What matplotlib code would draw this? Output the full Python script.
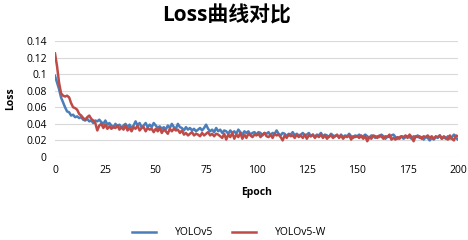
import numpy as np
import matplotlib.pyplot as plt

plt.rcParams['font.family'] = ['Open Sans', 'Noto Sans CJK SC', 'DejaVu Sans']

# YOLOv5 loss per epoch (0..200)
yolov5 = [
    0.098, 0.090, 0.082, 0.072, 0.066, 0.060, 0.055, 0.054, 0.050, 0.051,
    0.048, 0.049, 0.047, 0.048, 0.045, 0.044, 0.046, 0.043, 0.044, 0.041,
    0.044, 0.043, 0.045, 0.042, 0.040, 0.044, 0.039, 0.041, 0.038, 0.036,
    0.040, 0.037, 0.039, 0.035, 0.038, 0.040, 0.036, 0.039, 0.035, 0.038,
    0.043, 0.038, 0.041, 0.036, 0.038, 0.041, 0.036, 0.039, 0.036, 0.041,
    0.038, 0.035, 0.037, 0.034, 0.036, 0.033, 0.038, 0.035, 0.040, 0.036,
    0.034, 0.040, 0.036, 0.035, 0.032, 0.036, 0.033, 0.035, 0.032, 0.034,
    0.031, 0.033, 0.035, 0.032, 0.035, 0.039, 0.034, 0.031, 0.033, 0.030,
    0.035, 0.031, 0.033, 0.029, 0.032, 0.031, 0.028, 0.032, 0.029, 0.031,
    0.028, 0.033, 0.030, 0.027, 0.031, 0.029, 0.031, 0.027, 0.029, 0.030,
    0.027, 0.030, 0.029, 0.026, 0.029, 0.028, 0.030, 0.026, 0.029, 0.028,
    0.032, 0.028, 0.026, 0.029, 0.028, 0.025, 0.028, 0.027, 0.030, 0.026,
    0.028, 0.026, 0.027, 0.029, 0.026, 0.027, 0.029, 0.025, 0.027, 0.024,
    0.027, 0.026, 0.029, 0.025, 0.027, 0.026, 0.024, 0.028, 0.026, 0.025,
    0.026, 0.024, 0.027, 0.024, 0.026, 0.025, 0.028, 0.025, 0.023, 0.026,
    0.025, 0.027, 0.024, 0.025, 0.027, 0.025, 0.023, 0.026, 0.025, 0.023,
    0.025, 0.024, 0.027, 0.025, 0.022, 0.025, 0.024, 0.026, 0.027, 0.024,
    0.022, 0.024, 0.025, 0.022, 0.024, 0.025, 0.024, 0.022, 0.025, 0.024,
    0.026, 0.023, 0.024, 0.021, 0.024, 0.023, 0.020, 0.023, 0.021, 0.024,
    0.023, 0.026, 0.022, 0.024, 0.022, 0.025, 0.022, 0.024, 0.027, 0.023,
    0.021,
]

# YOLOv5-W loss per epoch (0..200)
yolov5_w = [
    0.125, 0.110, 0.090, 0.077, 0.074, 0.073, 0.074, 0.072, 0.065, 0.060,
    0.059, 0.057, 0.052, 0.050, 0.047, 0.045, 0.048, 0.050, 0.046, 0.044,
    0.041, 0.032, 0.038, 0.040, 0.035, 0.039, 0.034, 0.037, 0.034, 0.036,
    0.035, 0.038, 0.033, 0.036, 0.033, 0.038, 0.032, 0.035, 0.031, 0.036,
    0.034, 0.038, 0.032, 0.035, 0.036, 0.031, 0.035, 0.033, 0.034, 0.030,
    0.034, 0.031, 0.035, 0.029, 0.033, 0.031, 0.028, 0.034, 0.031, 0.034,
    0.032, 0.033, 0.029, 0.032, 0.027, 0.029, 0.026, 0.028, 0.030, 0.026,
    0.028, 0.027, 0.025, 0.029, 0.026, 0.028, 0.030, 0.026, 0.028, 0.025,
    0.028, 0.027, 0.025, 0.023, 0.028, 0.021, 0.027, 0.024, 0.029, 0.022,
    0.027, 0.024, 0.029, 0.022, 0.027, 0.023, 0.028, 0.026, 0.024, 0.027,
    0.026, 0.028, 0.024, 0.027, 0.029, 0.025, 0.024, 0.027, 0.023, 0.028,
    0.026, 0.027, 0.024, 0.020, 0.026, 0.023, 0.027, 0.025, 0.026, 0.023,
    0.027, 0.024, 0.026, 0.023, 0.027, 0.022, 0.026, 0.025, 0.027, 0.023,
    0.026, 0.024, 0.027, 0.023, 0.026, 0.022, 0.025, 0.026, 0.023, 0.025,
    0.027, 0.023, 0.026, 0.022, 0.025, 0.024, 0.026, 0.021, 0.025, 0.024,
    0.025, 0.023, 0.026, 0.022, 0.025, 0.019, 0.024, 0.022, 0.026, 0.025,
    0.023, 0.026, 0.025, 0.022, 0.025, 0.024, 0.027, 0.021, 0.023, 0.021,
    0.024, 0.022, 0.025, 0.024, 0.026, 0.023, 0.027, 0.024, 0.019, 0.025,
    0.024, 0.025, 0.022, 0.025, 0.024, 0.026, 0.023, 0.025, 0.022, 0.025,
    0.024, 0.026, 0.022, 0.025, 0.023, 0.021, 0.026, 0.022, 0.020, 0.026,
    0.025,
]

epochs = np.arange(len(yolov5))
xticks = [0, 25, 50, 75, 100, 125, 150, 175, 200]
yticks = [0, 0.02, 0.04, 0.06, 0.08, 0.1, 0.12, 0.14]
ytick_labels = ['0', '0.02', '0.04', '0.06', '0.08', '0.1', '0.12', '0.14']

fig = plt.figure(figsize=(4.68, 2.40), dpi=100)
ax = fig.add_axes([0.1175, 0.346, 0.861, 0.483])

ax.plot(epochs, yolov5, color='#4a7ebb', linewidth=1.8, label='YOLOv5')
ax.plot(epochs, yolov5_w, color='#be4b48', linewidth=1.8, label='YOLOv5-W')

ax.set_xlim(0, 200)
ax.set_ylim(0, 0.14)
ax.set_xticks(xticks)
ax.set_yticks(yticks)
ax.set_yticklabels(ytick_labels)
ax.tick_params(length=0, labelsize=7.5, pad=6)
ax.grid(axis='y', color='#d9d9d9', linewidth=0.8)
ax.set_axisbelow(True)
for s in ax.spines.values():
    s.set_visible(False)

ax.set_xlabel('Epoch', fontsize=7.5, fontweight='bold', labelpad=8)
ax.set_ylabel('Loss', fontsize=7.5, fontweight='bold', labelpad=7)

fig.text(0.485, 0.935, 'Loss曲线对比', ha='center', va='center', fontsize=15,
         fontweight='bold', family=['Open Sans', 'Noto Sans CJK SC'])

fig.legend(loc='center', bbox_to_anchor=(0.49, 0.03), ncol=2, frameon=False,
           fontsize=7.5, handlelength=2.3, columnspacing=1.8, handletextpad=1.8)

fig.savefig('out.png', dpi=100)
